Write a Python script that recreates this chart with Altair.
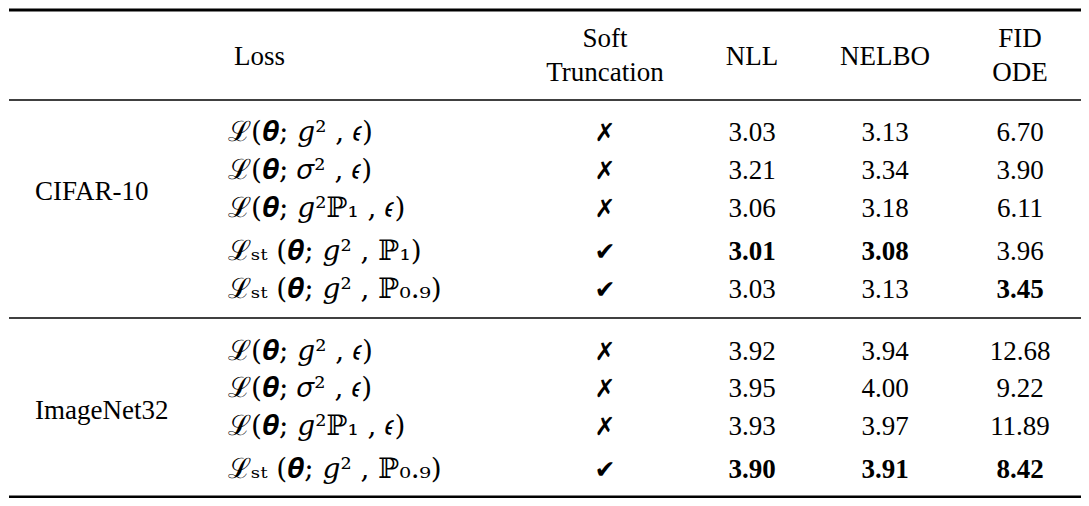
import altair as alt
import pandas as pd

# ---------------- data ----------------
groups = ["CIFAR-10", "ImageNet32"]
losses = [
    ["ℒ(𝜽; 𝑔² , 𝜖)", "ℒ(𝜽; 𝜎² , 𝜖)", "ℒ(𝜽; 𝑔²ℙ₁ , 𝜖)", "ℒₛₜ (𝜽; 𝑔² , ℙ₁)", "ℒₛₜ (𝜽; 𝑔² , ℙ₀.₉)"],
    ["ℒ(𝜽; 𝑔² , 𝜖)", "ℒ(𝜽; 𝜎² , 𝜖)", "ℒ(𝜽; 𝑔²ℙ₁ , 𝜖)", "ℒₛₜ (𝜽; 𝑔² , ℙ₀.₉)"],
]
soft = [[False, False, False, True, True], [False, False, False, True]]
nll = [[3.03, 3.21, 3.06, 3.01, 3.03], [3.92, 3.95, 3.93, 3.90]]
nelbo = [[3.13, 3.34, 3.18, 3.08, 3.13], [3.94, 4.00, 3.97, 3.91]]
fid = [[6.70, 3.90, 6.11, 3.96, 3.45], [12.68, 9.22, 11.89, 8.42]]
metric_names = ["NLL", "NELBO", "FID"]

# ---------------- layout (pixels inside the plot area) ----------------
W, H = 1073, 490
col_x = {"group": 27, "loss": 220, "soft": 597, "NLL": 744, "NELBO": 877, "FID": 1012}
row_y = [[125, 163, 201, 244, 282], [344, 381, 419, 462]]
group_y = [184, 403]
rules_y = [2, 92, 310, 489]
rules_w = [3, 1.6, 1.6, 3]
hdr_top, hdr_mid, hdr_bot = 31, 49, 65

header = pd.DataFrame([
    {"t": "Soft", "x": col_x["soft"], "y": hdr_top},
    {"t": "Truncation", "x": col_x["soft"], "y": hdr_bot},
    {"t": "NLL", "x": col_x["NLL"], "y": hdr_mid},
    {"t": "NELBO", "x": col_x["NELBO"], "y": hdr_mid},
    {"t": "FID", "x": col_x["FID"], "y": hdr_top},
    {"t": "ODE", "x": col_x["FID"], "y": hdr_bot},
])
header_loss = pd.DataFrame([{"t": "Loss", "x": col_x["loss"] + 6, "y": hdr_mid}])

grp_df = pd.DataFrame({"t": groups, "x": [col_x["group"]] * 2, "y": group_y})

loss_rows, mark_rows, num_rows = [], [], []
for g in range(len(groups)):
    cols = {"NLL": nll[g], "NELBO": nelbo[g], "FID": fid[g]}
    for i in range(len(losses[g])):
        y = row_y[g][i]
        loss_rows.append({"t": losses[g][i], "x": col_x["loss"], "y": y})
        mark_rows.append({"t": "✔" if soft[g][i] else "✗", "x": col_x["soft"], "y": y})
        for m in metric_names:
            v = cols[m][i]
            num_rows.append({"v": v, "x": col_x[m], "y": y,
                             "bold": v == min(cols[m])})
loss_df = pd.DataFrame(loss_rows)
mark_df = pd.DataFrame(mark_rows)
num_df = pd.DataFrame(num_rows)
rule_df = pd.DataFrame({"y": rules_y, "w": rules_w})

xs = alt.Scale(domain=[0, W], range=[0, W])
ys = alt.Scale(domain=[0, H], range=[0, H])
X = alt.X("x:Q", scale=xs, axis=None)
Y = alt.Y("y:Q", scale=ys, axis=None)

FONT = "Liberation Serif"
FS = 27

rules = alt.Chart(rule_df).mark_rule(color="black").encode(
    x=alt.value(1), x2=alt.value(W), y=Y,
    strokeWidth=alt.StrokeWidth("w:Q", scale=None, legend=None))

hdr = alt.Chart(header).mark_text(font=FONT, fontSize=FS, align="center",
                                  baseline="middle", color="black").encode(x=X, y=Y, text="t:N")
hdr_loss = alt.Chart(header_loss).mark_text(font=FONT, fontSize=FS, align="left",
                                            baseline="middle", color="black").encode(x=X, y=Y, text="t:N")
grp = alt.Chart(grp_df).mark_text(font=FONT, fontSize=FS, align="left",
                                  baseline="middle", color="black").encode(x=X, y=Y, text="t:N")
loss = alt.Chart(loss_df).mark_text(font="DejaVu Serif", fontSize=28,
                                    align="left", baseline="middle", color="black").encode(x=X, y=Y, text="t:N")
marks = alt.Chart(mark_df).mark_text(font="DejaVu Sans", fontSize=25, align="center",
                                     baseline="middle", color="black").encode(x=X, y=Y, text="t:N")
nums = alt.Chart(num_df).mark_text(font=FONT, fontSize=FS, align="center",
                                   baseline="middle", color="black").encode(
    x=X, y=Y, text=alt.Text("v:Q", format=".2f")).transform_filter("!datum.bold")
nums_b = alt.Chart(num_df).mark_text(font=FONT, fontSize=FS, fontWeight="bold", align="center",
                                     baseline="middle", color="black").encode(
    x=X, y=Y, text=alt.Text("v:Q", format=".2f")).transform_filter("datum.bold")

chart = alt.layer(rules, hdr, hdr_loss, grp, loss, marks, nums, nums_b).properties(
    width=W, height=H, padding=0, autosize="none", background="white"
).configure_view(stroke=None)

chart.save("out.html", embed_options={"renderer": "svg", "actions": False})
